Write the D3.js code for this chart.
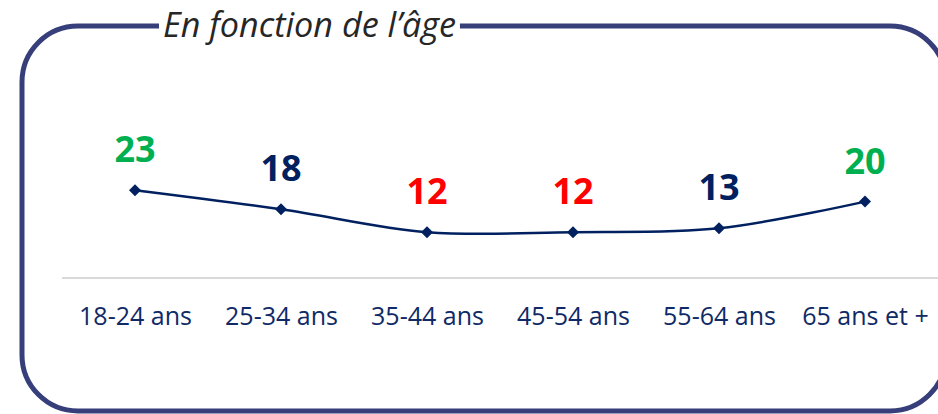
<!DOCTYPE html>
<html>
<head>
<meta charset="utf-8">
<script src="https://cdn.jsdelivr.net/npm/d3@7"></script>
<style>
  html, body { margin: 0; padding: 0; background: #fff; }
  svg { display: block; }
</style>
</head>
<body>
<svg id="chart" width="938" height="414"></svg>
<script>
// Age groups and their values
const categories = ["18-24 ans", "25-34 ans", "35-44 ans", "45-54 ans", "55-64 ans", "65 ans et +"];
const values = [23, 18, 12, 12, 13, 20];
const title = "En fonction de l\u2019\u00e2ge";

const W = 938, H = 414;
const svg = d3.select("#chart");

const navy = "#002060";
const frameColor = "#363f7a";
// high values in green, lowest in red, the rest in navy
const highFrom = 20, lowTo = 12;
const labelColor = v => v >= highFrom ? "#00b050" : (v <= lowTo ? "#ff0000" : navy);

// Rounded frame around the chart
svg.append("rect")
  .attr("x", 22).attr("y", 26)
  .attr("width", 924).attr("height", 385)
  .attr("rx", 56).attr("ry", 56)
  .attr("fill", "none")
  .attr("stroke", frameColor)
  .attr("stroke-width", 5);

// Scales
const x = d3.scalePoint()
  .domain(categories)
  .range([135, 865]);

const y = d3.scaleLinear()
  .domain([0, 25])
  .range([278, 278 - 25 * 3.82]);

// Category axis
const axis = d3.axisBottom(x).tickSize(0).tickPadding(0);
const gAxis = svg.append("g")
  .attr("transform", `translate(0,${y(0)})`)
  .call(axis);
gAxis.select(".domain").remove();
gAxis.append("line")
  .attr("x1", 62).attr("x2", 938)
  .attr("y1", 0).attr("y2", 0)
  .attr("stroke", "#d9d9d9")
  .attr("stroke-width", 2);
gAxis.selectAll(".tick text")
  .attr("y", 47)
  .attr("dy", null)
  .attr("fill", "#0f2a66")
  .style("font-family", "'Open Sans', sans-serif")
  .style("font-size", "25px");

// Smoothed line
const line = d3.line()
  .x((d, i) => x(categories[i]))
  .y(d => y(d))
  .curve(d3.curveCardinal.tension(0));

svg.append("path")
  .datum(values)
  .attr("d", line)
  .attr("fill", "none")
  .attr("stroke", navy)
  .attr("stroke-width", 2.5);

// Diamond markers
const diamond = d3.symbol().type(d3.symbolSquare).size(72);
svg.selectAll(".marker")
  .data(values)
  .join("path")
  .attr("class", "marker")
  .attr("d", diamond)
  .attr("transform", (d, i) => `translate(${x(categories[i])},${y(d)}) rotate(45)`)
  .attr("fill", navy);

// Value labels
svg.selectAll(".value")
  .data(values)
  .join("text")
  .attr("class", "value")
  .attr("x", (d, i) => x(categories[i]))
  .attr("y", d => y(d) - 28)
  .attr("text-anchor", "middle")
  .attr("fill", d => labelColor(d))
  .style("font-family", "'Open Sans', sans-serif")
  .style("font-weight", "700")
  .style("font-size", "36px")
  .text(d => d);

// Title sitting on the frame's top edge
const gTitle = svg.append("g");
const bg = gTitle.append("rect").attr("fill", "#fff");
const t = gTitle.append("text")
  .attr("x", 163).attr("y", 37)
  .attr("fill", "#262626")
  .style("font-family", "'Open Sans', sans-serif")
  .style("font-style", "italic")
  .style("font-size", "30px")
  .text(title);
// fit title width to its slot
let fs = 30;
const target = 293;
const len = t.node().getComputedTextLength();
fs = fs * target / len;
t.style("font-size", fs.toFixed(2) + "px");
const bb = t.node().getBBox();
bg.attr("x", bb.x - 4).attr("y", 20)
  .attr("width", bb.width + 8).attr("height", 14);
</script>
</body>
</html>
